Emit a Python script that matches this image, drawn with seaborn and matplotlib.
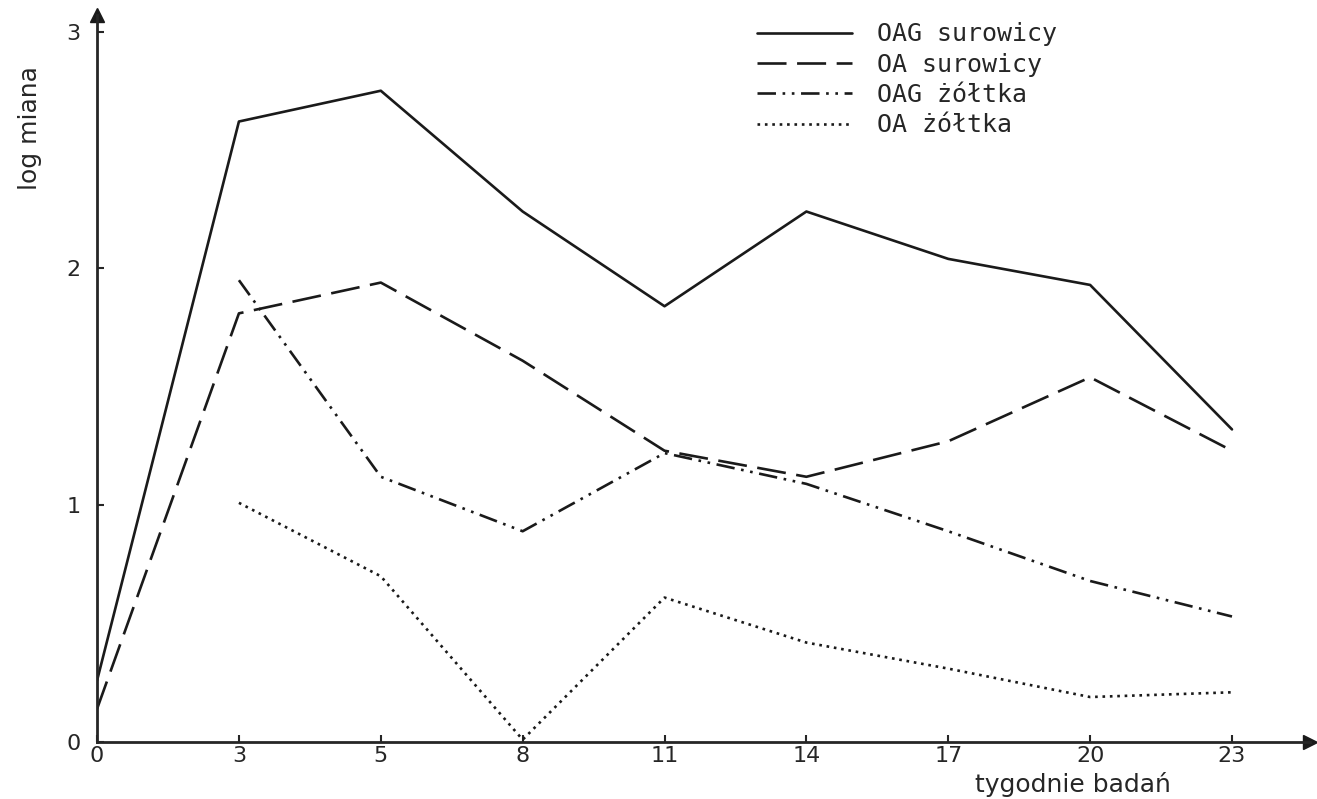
import pandas as pd
import numpy as np
import matplotlib.pyplot as plt
import seaborn as sns

tygodnie = ["0", "3", "5", "8", "11", "14", "17", "20", "23"]
oag_surowicy = [0.26, 2.62, 2.75, 2.24, 1.84, 2.24, 2.04, 1.93, 1.32]
oa_surowicy = [0.14, 1.81, 1.94, 1.61, 1.23, 1.12, 1.27, 1.54, 1.23]
oag_zoltka = [np.nan, 1.95, 1.12, 0.89, 1.22, 1.09, 0.89, 0.68, 0.53]
oa_zoltka = [np.nan, 1.01, 0.70, 0.01, 0.61, 0.42, 0.31, 0.19, 0.21]

serie = {
    "OAG surowicy": oag_surowicy,
    "OA surowicy": oa_surowicy,
    "OAG żółtka": oag_zoltka,
    "OA żółtka": oa_zoltka,
}

rows = []
for nazwa, wartosci in serie.items():
    for i, v in enumerate(wartosci):
        if not np.isnan(v):
            rows.append({"pos": i, "log": v, "seria": nazwa})
df = pd.DataFrame(rows)

sns.set_style("ticks")
plt.rcParams["font.family"] = ["DejaVu Sans"]

fig = plt.figure(figsize=(13.17, 7.99), dpi=100)
ax = fig.add_axes([0.0737, 0.0713, 0.921, 0.91])

kreski = {
    "OAG surowicy": "",
    "OA surowicy": (11, 4),
    "OAG żółtka": (7, 2.5, 1, 2.5, 1, 2.5),
    "OA żółtka": (1, 1.8),
}
sns.lineplot(data=df, x="pos", y="log", style="seria", dashes=kreski,
             style_order=list(serie.keys()), color="#1a1a1a", lw=1.9, ax=ax)

ax.set_xlim(0, 8.55)
ax.set_ylim(0, 3.07)
ax.set_xticks(range(len(tygodnie)))
ax.set_xticklabels(tygodnie)
ax.set_yticks([0, 1, 2, 3])
ax.tick_params(direction="in", length=5, width=1.5, labelsize=16)
ax.tick_params(axis="x", pad=3)
ax.tick_params(axis="y", pad=12)
sns.despine(ax=ax)
for s in ["left", "bottom"]:
    ax.spines[s].set_linewidth(2)
ax.plot(1, 0, ">", color="#1a1a1a", ms=10, transform=ax.transAxes, clip_on=False)
ax.plot(0, 1, "^", color="#1a1a1a", ms=10, transform=ax.transAxes, clip_on=False)

ax.set_xlabel("")
ax.set_ylabel("")
fig.text(0.74, 0.003, "tygodnie badań", fontsize=18, va="bottom")
fig.text(0.014, 0.84, "log miana", fontsize=18, rotation=90, ha="left", va="center")

h, l = ax.get_legend_handles_labels()
ax.legend(h, l, loc="upper left", bbox_to_anchor=(0.558, 1.0), bbox_transform=fig.transFigure,
          frameon=False, prop={"family": "DejaVu Sans Mono", "size": 18},
          handlelength=3.8, labelspacing=0.25, handletextpad=1.0)

fig.savefig("out.png", dpi=100)
